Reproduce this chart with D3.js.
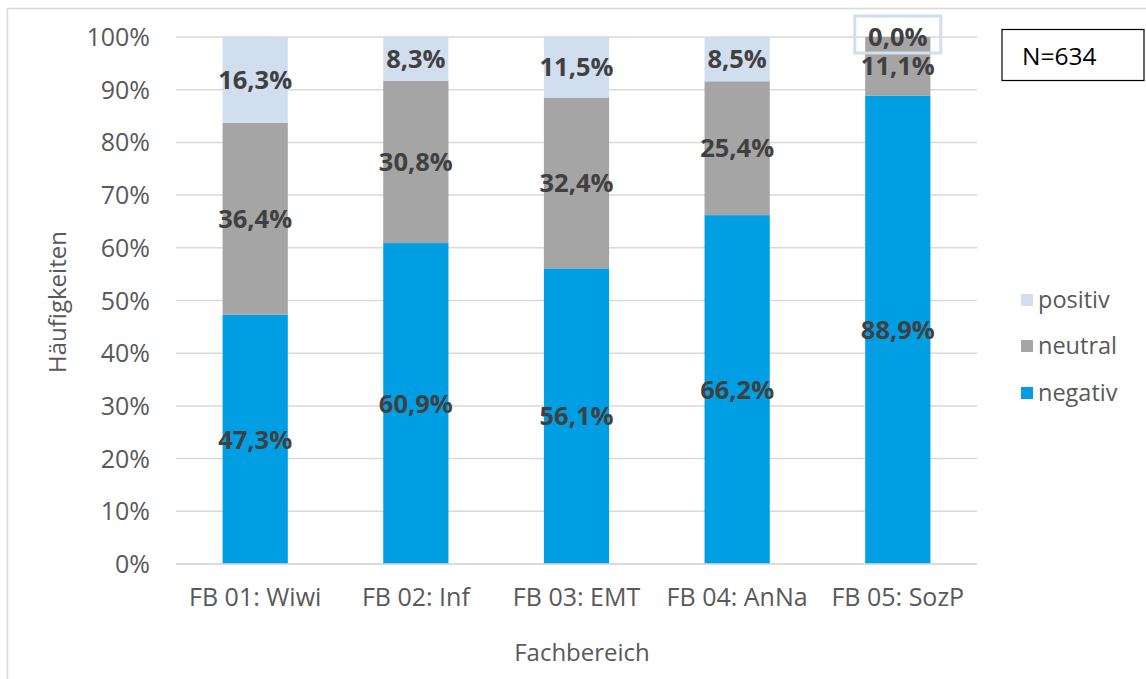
<!DOCTYPE html>
<html><head><meta charset="utf-8">
<script src="https://cdn.jsdelivr.net/npm/d3@7"></script>
<style>body{margin:0;background:#fff}svg{display:block}text{font-family:"Open Sans",sans-serif}</style>
</head><body><svg id="c" width="1146" height="679"></svg>
<script>
const categories = ["FB 01: Wiwi","FB 02: Inf","FB 03: EMT","FB 04: AnNa","FB 05: SozP"];
const negativ = [47.3, 60.9, 56.1, 66.2, 88.9];
const neutral = [36.4, 30.8, 32.4, 25.4, 11.1];
const positiv = [16.3, 8.3, 11.5, 8.5, 0.0];
const yTicks = [0,10,20,30,40,50,60,70,80,90,100];
const seriesNames = ["negativ","neutral","positiv"];
const colors = {negativ:"#009FE3", neutral:"#A5A5A5", positiv:"#D0DEEE"};

const svg = d3.select("#c");
const W=1146,H=679;
svg.append("rect").attr("x",7.5).attr("y",8.5).attr("width",W+10).attr("height",H+10).attr("fill","none").attr("stroke","#D9D9D9").attr("stroke-width",1.5);

const m={l:176,r:977,t:37,b:564};
const x=d3.scaleBand().domain(categories).range([m.l,m.r]).paddingInner(0.594).paddingOuter(0.29);
const y=d3.scaleLinear().domain([0,100]).range([m.b,m.t]);

// grid
svg.append("g").selectAll("line").data(yTicks).join("line")
  .attr("x1",m.l).attr("x2",m.r).attr("y1",d=>y(d)).attr("y2",d=>y(d))
  .attr("stroke","#D9D9D9").attr("stroke-width",1.5);

const table = categories.map((c,i)=>({cat:c,negativ:negativ[i],neutral:neutral[i],positiv:positiv[i]}));
const stack=d3.stack().keys(seriesNames)(table);

const g=svg.append("g");
stack.forEach(s=>{
  g.append("g").selectAll("rect").data(s).join("rect")
   .attr("x",d=>x(d.data.cat)).attr("width",x.bandwidth())
   .attr("y",d=>y(Math.min(d[1],100))).attr("height",d=>y(d[0])-y(Math.min(d[1],100)))
   .attr("fill",colors[s.key]);
});
svg.append("line").attr("x1",m.l).attr("x2",m.r).attr("y1",y(0)).attr("y2",y(0)).attr("stroke","#D9D9D9").attr("stroke-width",1.5);

// labels
const fmt=v=>v.toFixed(1).replace(".",",")+"%";
stack.forEach(s=>{
  s.forEach(d=>{
    const v=d.data[s.key];
    let cy;
    if(v===0){cy=y(100);}
    else cy=(y(d[0])+y(Math.min(d[1],100)))/2;
    const cx=x(d.data.cat)+x.bandwidth()/2;
    if(v===0){
      svg.append("rect").attr("x",cx-43).attr("y",cy-21).attr("width",86).attr("height",37)
        .attr("fill","none").attr("stroke","#D0DEEE").attr("stroke-width",3);
    }
    svg.append("text").attr("x",cx).attr("y",cy).attr("dy","0.36em").attr("text-anchor","middle")
      .attr("font-size",25.5).attr("font-weight",700).attr("fill","#404040").text(fmt(v));
  });
});

// y tick labels
svg.append("g").selectAll("text").data(yTicks).join("text")
  .attr("x",150).attr("y",d=>y(d)).attr("dy","0.36em").attr("text-anchor","end")
  .attr("font-size",25).attr("fill","#595959").text(d=>d+"%");
// x tick labels
svg.append("g").selectAll("text").data(categories).join("text")
  .attr("x",d=>x(d)+x.bandwidth()/2).attr("y",597).attr("dy","0.36em").attr("text-anchor","middle")
  .attr("font-size",25).attr("fill","#595959").text(d=>d);
// titles
svg.append("text").attr("transform","translate(57,302) rotate(-90)").attr("dy","0.36em").attr("text-anchor","middle")
  .attr("font-size",24).attr("fill","#595959").text("Häufigkeiten");
svg.append("text").attr("x",582).attr("y",652).attr("dy","0.36em").attr("text-anchor","middle")
  .attr("font-size",24).attr("fill","#595959").text("Fachbereich");

// legend
const leg=[["positiv",300],["neutral",346],["negativ",393]];
leg.forEach(([k,yy])=>{
  svg.append("rect").attr("x",1021).attr("y",yy-6).attr("width",12).attr("height",12).attr("fill",colors[k]);
  svg.append("text").attr("x",1038).attr("y",yy).attr("dy","0.36em").attr("font-size",23.5).attr("fill","#595959").text(k);
});
// N box
svg.append("rect").attr("x",1002).attr("y",29.5).attr("width",142).attr("height",51).attr("fill","#fff").attr("stroke","#000").attr("stroke-width",1.2);
svg.append("text").attr("x",1022).attr("y",56).attr("dy","0.36em").attr("font-size",24.5).attr("fill","#000").text("N=634");
</script></body></html>
